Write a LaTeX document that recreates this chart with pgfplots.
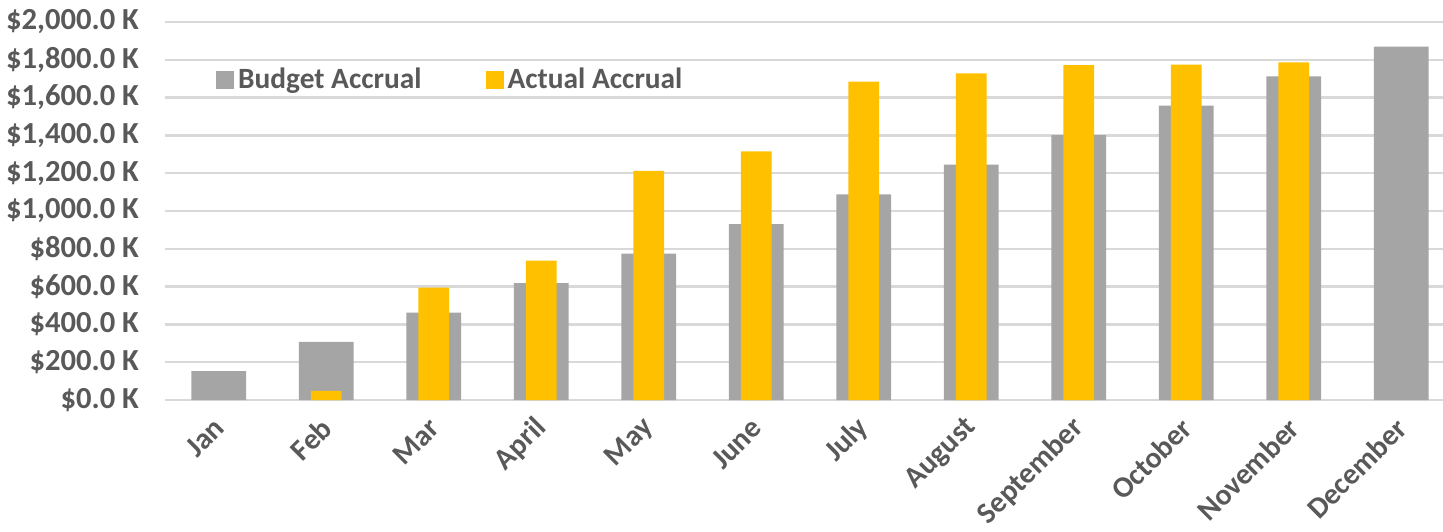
\documentclass[border=0pt]{standalone}
\usepackage{pgfplots}
\pgfplotsset{compat=1.18}
\usepackage{fontspec}
\setmainfont{Carlito}
\definecolor{budget}{HTML}{A5A5A5}
\definecolor{actual}{HTML}{FFC000}
\definecolor{txt}{HTML}{595959}
\definecolor{gridc}{HTML}{D9D9D9}
\begin{document}
\begin{tikzpicture}
\begin{axis}[
    scale only axis, width=639pt, height=189pt,
    xmin=-0.5, xmax=11.389, ymin=0, ymax=2000,
    axis line style={draw=none},
    major tick length=0pt,
    ymajorgrids=true,
    grid style={gridc, line width=1.2pt},
    xtick={0,...,11},
    xticklabels={Jan,Feb,Mar,April,May,June,July,August,September,October,November,December},
    ytick={0,200,...,2000},
    scaled y ticks=false,
    /pgf/number format/assume math mode=true,
    yticklabel={\$\pgfmathprintnumber[fixed,fixed zerofill,precision=1,1000 sep={,}]{\tick}~K},
    tick label style={font=\fontsize{14.9}{17}\selectfont\bfseries, text=txt},
    xticklabel style={xshift=2.7pt, yshift=-9.2pt, rotate=45, anchor=east},
    yticklabel style={font=\fontsize{15.3}{17}\selectfont\bfseries, xshift=-9.5pt},
    legend columns=2,
    legend style={at={(0.035,0.847)}, anchor=west, draw=none, fill=none,
        font=\fontsize{14.7}{17}\selectfont\bfseries, text=txt,
        /tikz/every even column/.append style={column sep=30pt}},
    legend image code/.code={\fill[#1] (0pt,-4.5pt) rectangle (9pt,4.5pt);},
]
\coordinate (O) at (rel axis cs:0,0);
% budget accrual, wide grey bars
\addplot[ybar, bar width=0.51, bar shift=0, fill=budget, draw=none] coordinates {
(0,153)(1,308)(2,463)(3,618)(4,774)(5,931)(6,1088)(7,1246)(8,1401)(9,1557)(10,1712)(11,1870)
};
\addlegendentry{Budget Accrual}
% actual accrual, narrow gold bars on top
\addplot[ybar, bar width=0.285, bar shift=0, fill=actual, draw=none] coordinates {
(1,48)(2,595)(3,737)(4,1212)(5,1315)(6,1685)(7,1728)(8,1772)(9,1774)(10,1786)
};
\addlegendentry{Actual Accrual}
\end{axis}
\pgfresetboundingbox
\path (O) ++(-82.5pt,-65.5pt) rectangle ++(721.5pt,265.5pt);
\end{tikzpicture}
\end{document}
